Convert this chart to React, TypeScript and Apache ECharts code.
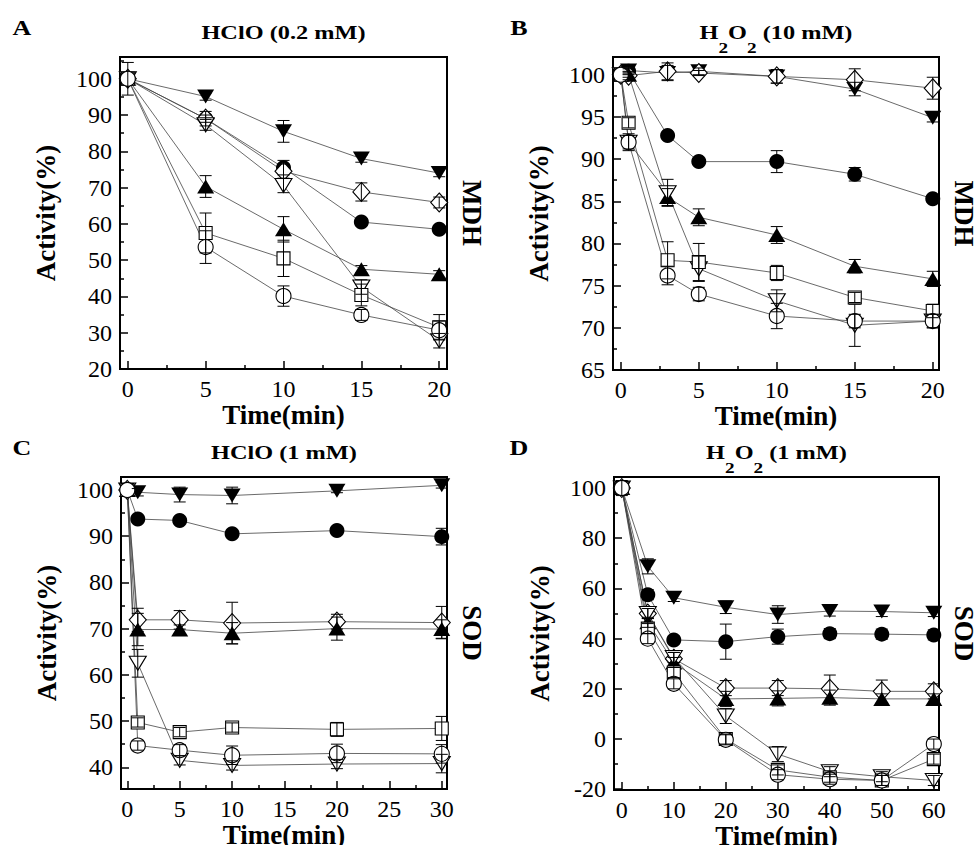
import { useEffect, useRef } from 'react';
import * as echarts from 'echarts';

const FONT = "'Liberation Serif', 'Times New Roman', Times, serif";

// ---------- Panel A : HClO (0.2 mM), MDH ----------
const timeA = [0, 5, 10, 15, 20];
const aFilledDown = [100, 95.1, 85.5, 78.0, 74.0];
const aFilledCircle = [100, 89.0, 75.5, 60.5, 58.5];
const aFilledUp = [100, 70.3, 58.5, 47.5, 46.1];
const aOpenDiamond = [100, 89.0, 74.5, 68.8, 65.9];
const aOpenDown = [100, 87.3, 70.6, 42.6, 27.8];
const aOpenSquare = [100, 57.5, 50.5, 40.4, 31.5];
const aOpenCircle = [100, 53.6, 40.1, 34.9, 30.7];
const aErrFilledDown = [0, 1.0, 3.0, 1.0, 1.0];
const aErrFilledCircle = [0, 1.0, 2.0, 1.0, 1.0];
const aErrFilledUp = [0, 3.0, 3.5, 1.0, 1.0];
const aErrOpenDiamond = [0, 2.0, 2.0, 2.5, 1.5];
const aErrOpenDown = [0, 1.5, 2.0, 2.0, 2.0];
const aErrOpenSquare = [0, 5.5, 5.0, 3.0, 3.5];
const aErrOpenCircle = [4.5, 4.5, 2.8, 1.5, 2.5];
const aXTicks = [0, 5, 10, 15, 20];
const aXMinor = [2.5, 7.5, 12.5, 17.5];
const aYTicks = [20, 30, 40, 50, 60, 70, 80, 90, 100];
const aYMinor = [25, 35, 45, 55, 65, 75, 85, 95, 105];

// ---------- Panel B : H2O2 (10 mM), MDH ----------
const timeB = [0, 0.5, 3, 5, 10, 15, 20];
const bFilledDown = [100, 100.5, 100.2, 100.4, 99.8, 98.3, 94.9];
const bFilledCircle = [100, 100.4, 92.8, 89.7, 89.7, 88.2, 85.3];
const bFilledUp = [100, 100.0, 85.5, 83.1, 81.0, 77.3, 75.8];
const bOpenDiamond = [100, 99.9, 100.4, 100.2, 99.8, 99.4, 98.4];
const bOpenDown = [100, 92.0, 86.0, 77.0, 73.2, 70.3, 70.8];
const bOpenSquare = [100, 94.3, 78.0, 77.8, 76.5, 73.6, 72.0];
const bOpenCircle = [100, 92.0, 76.2, 74.0, 71.4, 70.8, 70.8];
const bErrFilledDown = [0, 0.5, 0.9, 0.4, 0.8, 0.8, 0.5];
const bErrFilledCircle = [0, 0.3, 0.3, 0.3, 1.3, 0.8, 0.4];
const bErrFilledUp = [0, 0.3, 1.0, 1.0, 1.0, 0.8, 0.9];
const bErrOpenDiamond = [0, 0.5, 1.0, 0.3, 0.8, 1.3, 1.3];
const bErrOpenDown = [0, 0.8, 1.6, 1.5, 1.3, 2.5, 0.8];
const bErrOpenSquare = [0, 0.6, 2.2, 2.2, 0.9, 0.6, 0.8];
const bErrOpenCircle = [0, 1.0, 1.1, 0.8, 1.5, 0.8, 0.8];
const bXTicks = [0, 5, 10, 15, 20];
const bXMinor = [2.5, 7.5, 12.5, 17.5];
const bYTicks = [65, 70, 75, 80, 85, 90, 95, 100];
const bYMinor = [67.5, 72.5, 77.5, 82.5, 87.5, 92.5, 97.5];

// ---------- Panel C : HClO (1 mM), SOD ----------
const timeC = [0, 1, 5, 10, 20, 30];
const cFilledDown = [100, 99.5, 99.0, 98.8, 99.8, 101.0];
const cFilledCircle = [100, 93.7, 93.4, 90.5, 91.2, 89.9];
const cFilledUp = [100, 69.8, 69.8, 69.0, 70.0, 69.9];
const cOpenDiamond = [100, 71.9, 71.9, 71.2, 71.5, 71.3];
const cOpenDown = [100, 62.5, 41.5, 40.4, 40.7, 40.8];
const cOpenSquare = [100, 49.7, 47.6, 48.6, 48.2, 48.4];
const cOpenCircle = [100, 44.7, 43.7, 42.6, 43.0, 42.9];
const cErrFilledDown = [0, 0.8, 1.6, 1.8, 0.4, 0.6];
const cErrFilledCircle = [0, 0.5, 0.5, 0.8, 0.6, 1.8];
const cErrFilledUp = [0, 3.5, 1.0, 2.3, 2.5, 2.0];
const cErrOpenDiamond = [0, 2.5, 2.0, 4.5, 1.6, 3.5];
const cErrOpenDown = [0, 3.0, 1.0, 1.0, 1.0, 2.0];
const cErrOpenSquare = [0, 1.0, 1.0, 1.0, 1.5, 2.6];
const cErrOpenCircle = [0, 1.0, 1.2, 2.0, 2.0, 2.0];
const cXTicks = [0, 5, 10, 15, 20, 25, 30];
const cXMinor = [2.5, 7.5, 12.5, 17.5, 22.5, 27.5];
const cYTicks = [40, 50, 60, 70, 80, 90, 100];
const cYMinor = [45, 55, 65, 75, 85, 95];

// ---------- Panel D : H2O2 (1 mM), SOD ----------
const timeD = [0, 5, 10, 20, 30, 40, 50, 60];
const dFilledDown = [100, 68.8, 56.3, 52.5, 49.6, 51.0, 50.8, 50.3];
const dFilledCircle = [100, 57.5, 39.5, 38.8, 40.8, 42.0, 41.8, 41.5];
const dFilledUp = [100, 46.5, 30.5, 16.0, 16.2, 16.5, 16.0, 16.0];
const dOpenDiamond = [100, 50.0, 32.0, 20.3, 20.3, 20.0, 19.0, 19.0];
const dOpenDown = [100, 50.0, 32.5, 9.2, -6.0, -13.0, -15.0, -16.5];
const dOpenSquare = [100, 44.0, 26.5, 0.0, -12.3, -15.2, -16.5, -8.0];
const dOpenCircle = [100, 40.0, 22.0, -0.3, -14.2, -16.0, -16.5, -2.0];
const dErrFilledDown = [0, 3.0, 1.5, 2.5, 3.5, 2.0, 2.0, 1.5];
const dErrFilledCircle = [0, 2.0, 1.5, 7.0, 3.0, 2.0, 2.0, 2.0];
const dErrFilledUp = [0, 2.0, 2.0, 3.0, 3.0, 3.0, 2.0, 2.0];
const dErrOpenDiamond = [0, 2.0, 2.5, 3.0, 3.0, 5.5, 4.5, 3.0];
const dErrOpenDown = [0, 2.0, 2.0, 3.0, 3.0, 2.0, 2.0, 2.0];
const dErrOpenSquare = [0, 2.0, 2.0, 2.0, 2.0, 2.0, 2.0, 2.0];
const dErrOpenCircle = [3.0, 2.0, 2.0, 2.0, 2.0, 2.0, 2.0, 2.0];
const dXTicks = [0, 10, 20, 30, 40, 50, 60];
const dXMinor = [5, 15, 25, 35, 45, 55];
const dYTicks = [-20, 0, 20, 40, 60, 80, 100];
const dYMinor = [-10, 10, 30, 50, 70, 90];

// title pieces: [text, isSubscript]
const titleA: [string, boolean][] = [['HClO (0.2 mM)', false]];
const titleB: [string, boolean][] = [['H', false], ['2', true], ['O', false], ['2', true], [' (10 mM)', false]];
const titleC: [string, boolean][] = [['HClO (1 mM)', false]];
const titleD: [string, boolean][] = [['H', false], ['2', true], ['O', false], ['2', true], [' (1 mM)', false]];
const titles = [titleA, titleB, titleC, titleD];
const letters = ['A', 'B', 'C', 'D'];
const enzymes = ['MDH', 'MDH', 'SOD', 'SOD'];

// draw order: later keys on top
const KEYS = ['filledCircle', 'filledDown', 'openDiamond', 'filledUp', 'openDown', 'openSquare', 'openCircle'];

const panels = [
  {
    time: timeA,
    values: { filledDown: aFilledDown, filledCircle: aFilledCircle, filledUp: aFilledUp, openDiamond: aOpenDiamond, openDown: aOpenDown, openSquare: aOpenSquare, openCircle: aOpenCircle },
    errors: { filledDown: aErrFilledDown, filledCircle: aErrFilledCircle, filledUp: aErrFilledUp, openDiamond: aErrOpenDiamond, openDown: aErrOpenDown, openSquare: aErrOpenSquare, openCircle: aErrOpenCircle },
    xTicks: aXTicks, xMinor: aXMinor, yTicks: aYTicks, yMinor: aYMinor,
    xRange: [-0.5, 20.5], yRange: [20, 106],
  },
  {
    time: timeB,
    values: { filledDown: bFilledDown, filledCircle: bFilledCircle, filledUp: bFilledUp, openDiamond: bOpenDiamond, openDown: bOpenDown, openSquare: bOpenSquare, openCircle: bOpenCircle },
    errors: { filledDown: bErrFilledDown, filledCircle: bErrFilledCircle, filledUp: bErrFilledUp, openDiamond: bErrOpenDiamond, openDown: bErrOpenDown, openSquare: bErrOpenSquare, openCircle: bErrOpenCircle },
    xTicks: bXTicks, xMinor: bXMinor, yTicks: bYTicks, yMinor: bYMinor,
    xRange: [-0.5, 20.4], yRange: [65, 102.1],
  },
  {
    time: timeC,
    values: { filledDown: cFilledDown, filledCircle: cFilledCircle, filledUp: cFilledUp, openDiamond: cOpenDiamond, openDown: cOpenDown, openSquare: cOpenSquare, openCircle: cOpenCircle },
    errors: { filledDown: cErrFilledDown, filledCircle: cErrFilledCircle, filledUp: cErrFilledUp, openDiamond: cErrOpenDiamond, openDown: cErrOpenDown, openSquare: cErrOpenSquare, openCircle: cErrOpenCircle },
    xTicks: cXTicks, xMinor: cXMinor, yTicks: cYTicks, yMinor: cYMinor,
    xRange: [-0.6, 30.5], yRange: [35.3, 102.8],
  },
  {
    time: timeD,
    values: { filledDown: dFilledDown, filledCircle: dFilledCircle, filledUp: dFilledUp, openDiamond: dOpenDiamond, openDown: dOpenDown, openSquare: dOpenSquare, openCircle: dOpenCircle },
    errors: { filledDown: dErrFilledDown, filledCircle: dErrFilledCircle, filledUp: dErrFilledUp, openDiamond: dErrOpenDiamond, openDown: dErrOpenDown, openSquare: dErrOpenSquare, openCircle: dErrOpenCircle },
    xTicks: dXTicks, xMinor: dXMinor, yTicks: dYTicks, yMinor: dYMinor,
    xRange: [-1.5, 61], yRange: [-20.3, 104.4],
  },
];

// ---------- styles / layout ----------
const MARKERS: Record<string, { symbol: string; size: any; rotate: number; filled: boolean }> = {
  filledDown: { symbol: 'triangle', size: [17, 14], rotate: 180, filled: true },
  filledCircle: { symbol: 'circle', size: 15, rotate: 0, filled: true },
  filledUp: { symbol: 'triangle', size: [17, 14], rotate: 0, filled: true },
  openDiamond: { symbol: 'diamond', size: [17, 19], rotate: 0, filled: false },
  openDown: { symbol: 'triangle', size: [17, 14], rotate: 180, filled: false },
  openSquare: { symbol: 'rect', size: 13, rotate: 0, filled: false },
  openCircle: { symbol: 'circle', size: 15, rotate: 0, filled: false },
};

const LAYOUT = [
  { left: 120, top: 57, width: 327, height: 312, letterX: 22 },
  { left: 613, top: 57, width: 326, height: 313, letterX: 519 },
  { left: 121, top: 477, width: 326, height: 312, letterX: 22 },
  { left: 614, top: 477, width: 325, height: 313, letterX: 519 },
];

const TITLE_SIZE = 19;
const SUB_SIZE = 15;

function measure(text: string, font: string) {
  const c = document.createElement('canvas');
  const ctx = c.getContext('2d');
  if (!ctx) return text.length * 10;
  ctx.font = font;
  return ctx.measureText(text).width;
}

function axisPair(gridIndex: number, dim: 'x' | 'y', range: number[], major: number[], minor: number[]) {
  const common: any = {
    gridIndex,
    type: 'value',
    min: range[0],
    max: range[1],
    position: dim === 'x' ? 'bottom' : 'left',
    splitLine: { show: false },
    silent: true,
  };
  return [
    {
      ...common,
      axisLine: { show: true, onZero: false, lineStyle: { color: '#000', width: 2 } },
      axisTick: { show: true, inside: true, length: 8, customValues: major, lineStyle: { color: '#000', width: 1.5 } },
      axisLabel: { show: true, customValues: major, color: '#000', fontSize: 24, fontFamily: FONT, margin: 8 },
    },
    {
      ...common,
      axisLine: { show: false, onZero: false },
      axisTick: { show: true, inside: true, length: 4, customValues: minor, lineStyle: { color: '#000', width: 1.5 } },
      axisLabel: { show: false },
    },
  ];
}

function errorRender(params: any, api: any) {
  const t = api.value(0);
  const v = api.value(1);
  const e = api.value(2);
  const p1 = api.coord([t, v + e]);
  const p2 = api.coord([t, v - e]);
  const hw = 6;
  const st = { stroke: '#000', lineWidth: 1 };
  return {
    type: 'group',
    silent: true,
    children: [
      { type: 'line', shape: { x1: p1[0], y1: p1[1], x2: p2[0], y2: p2[1] }, style: st },
      { type: 'line', shape: { x1: p1[0] - hw, y1: p1[1], x2: p1[0] + hw, y2: p1[1] }, style: st },
      { type: 'line', shape: { x1: p2[0] - hw, y1: p2[1], x2: p2[0] + hw, y2: p2[1] }, style: st },
    ],
  };
}

function titleGroup(pieces: [string, boolean][], cx: number, cy: number) {
  const mainFont = `bold ${TITLE_SIZE}px ${FONT}`;
  const subFont = `bold ${SUB_SIZE}px ${FONT}`;
  const widths = pieces.map(([t, sub]) => measure(t, sub ? subFont : mainFont));
  const total = widths.reduce((s, w) => s + w, 0);
  let x = -total / 2;
  const children = pieces.map(([t, sub], idx) => {
    const el = {
      type: 'text', x, y: sub ? 15 : 0, silent: true,
      style: {
        text: t, fill: '#000', fontSize: sub ? SUB_SIZE : TITLE_SIZE, fontWeight: 'bold', fontFamily: FONT,
        align: 'left', verticalAlign: 'middle',
      },
    };
    x += widths[idx];
    return el;
  });
  return { type: 'group', x: cx, y: cy, scaleX: 1.28, silent: true, children };
}

function buildOption() {
  const grid = LAYOUT.map((b) => ({
    left: b.left, top: b.top, width: b.width, height: b.height,
    show: true, borderColor: '#000', borderWidth: 2, backgroundColor: 'transparent',
    containLabel: false, outerBoundsMode: 'none',
  }));
  const xAxis: any[] = [];
  const yAxis: any[] = [];
  const series: any[] = [];
  const graphic: any[] = [];

  panels.forEach((p, i) => {
    xAxis.push(...axisPair(i, 'x', p.xRange, p.xTicks, p.xMinor));
    yAxis.push(...axisPair(i, 'y', p.yRange, p.yTicks, p.yMinor));
    const errData: any[] = [];
    KEYS.forEach((k, ki) => {
      const vals = (p.values as any)[k] as number[];
      const errs = (p.errors as any)[k] as number[];
      const data = p.time.map((t, j) => [t, vals[j]]);
      const m = MARKERS[k];
      series.push({
        type: 'line', xAxisIndex: 2 * i, yAxisIndex: 2 * i, data,
        symbol: 'none', lineStyle: { color: '#444', width: 0.8 }, z: 2, silent: true,
        emphasis: { disabled: true },
      });
      series.push({
        type: 'scatter', xAxisIndex: 2 * i, yAxisIndex: 2 * i, data,
        symbol: m.symbol, symbolSize: m.size, symbolRotate: m.rotate,
        itemStyle: { color: m.filled ? '#000' : '#fff', borderColor: '#000', borderWidth: m.filled ? 0 : 1.1, opacity: 1 },
        z: 3 + ki, silent: true, emphasis: { disabled: true },
      });
      p.time.forEach((t, j) => {
        if (errs[j] > 0) errData.push([t, vals[j], errs[j]]);
      });
    });
    series.push({
      type: 'custom', xAxisIndex: 2 * i, yAxisIndex: 2 * i, data: errData,
      encode: { x: 0, y: 1 }, renderItem: errorRender, z: 20, silent: true,
    });

    const b = LAYOUT[i];
    const cx = b.left + b.width / 2;
    const cy = b.top + b.height / 2;
    // panel letter
    graphic.push({
      type: 'text', x: b.letterX, y: b.top - 29, scaleX: 1.3, silent: true,
      style: { text: letters[i], fill: '#000', fontSize: 20, fontWeight: 'bold', fontFamily: FONT, align: 'center', verticalAlign: 'middle' },
    });
    // title
    graphic.push(titleGroup(titles[i], cx, b.top - 24));
    // y axis name
    graphic.push({
      type: 'text', x: b.left - 74, y: cy, rotation: Math.PI / 2, silent: true,
      style: { text: 'Activity(%)', fill: '#000', fontSize: 27, fontWeight: 'bold', fontFamily: FONT, align: 'center', verticalAlign: 'middle' },
    });
    // x axis name
    graphic.push({
      type: 'text', x: cx, y: b.top + b.height + 46, silent: true,
      style: { text: 'Time(min)', fill: '#000', fontSize: 27, fontWeight: 'bold', fontFamily: FONT, align: 'center', verticalAlign: 'middle' },
    });
    // enzyme label on right
    graphic.push({
      type: 'text', x: b.left + b.width + 25, y: cy, rotation: -Math.PI / 2, silent: true,
      style: { text: enzymes[i], fill: '#000', fontSize: 27, fontWeight: 'bold', fontFamily: FONT, align: 'center', verticalAlign: 'middle' },
    });
  });

  return {
    animation: false,
    backgroundColor: '#fff',
    textStyle: { fontFamily: FONT },
    grid,
    xAxis,
    yAxis,
    series,
    graphic,
  };
}

export default function App() {
  const ref = useRef<HTMLDivElement>(null);
  useEffect(() => {
    if (!ref.current) return;
    const chart = echarts.init(ref.current, undefined, { renderer: 'svg' });
    chart.setOption(buildOption() as any);
    return () => chart.dispose();
  }, []);
  return (
    <div
      ref={ref}
      style={{ position: 'absolute', left: 0, top: 0, width: 979, height: 845, background: '#fff' }}
    />
  );
}
